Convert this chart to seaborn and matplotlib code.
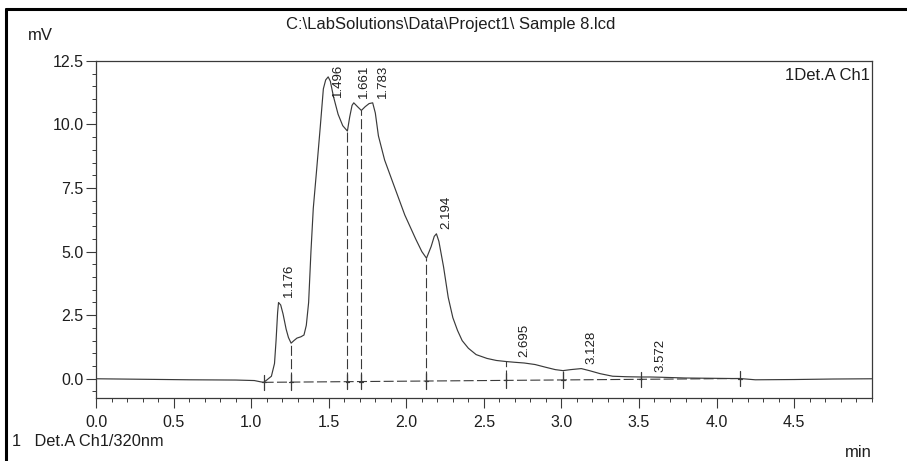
import numpy as np
import matplotlib
matplotlib.use("Agg")
import matplotlib.pyplot as plt
from matplotlib.lines import Line2D
from matplotlib.ticker import MultipleLocator, FormatStrFormatter
import seaborn as sns

# Detector trace (retention time in min, signal in mV)
time_min = [0.00, 0.30, 0.60, 0.90, 1.02, 1.06, 1.08, 1.10, 1.13, 1.15, 1.16, 1.17,
            1.176, 1.19, 1.205, 1.225, 1.24, 1.257, 1.275, 1.295, 1.32, 1.34, 1.355,
            1.37, 1.385, 1.40, 1.42, 1.445, 1.465, 1.48, 1.496, 1.51, 1.53, 1.56,
            1.59, 1.62, 1.635, 1.65, 1.661, 1.685, 1.71, 1.735, 1.76, 1.783, 1.80,
            1.82, 1.86, 1.92, 1.99, 2.06, 2.10, 2.13, 2.16, 2.18, 2.194, 2.21, 2.24,
            2.27, 2.30, 2.33, 2.36, 2.40, 2.45, 2.52, 2.58, 2.64, 2.695, 2.76, 2.83,
            2.90, 2.96, 3.01, 3.06, 3.128, 3.18, 3.25, 3.33, 3.42, 3.51, 3.572, 3.64,
            3.80, 3.95, 4.10, 4.15, 4.25, 4.50, 4.75, 5.00]
signal_mv = [0.00, -0.02, -0.04, -0.05, -0.07, -0.12, -0.14, -0.05, 0.10, 0.60, 1.50, 2.60,
             3.00, 2.90, 2.55, 1.95, 1.62, 1.40, 1.50, 1.60, 1.65, 1.72, 2.10,
             3.00, 5.00, 6.70, 8.10, 9.90, 11.40, 11.75, 11.87, 11.70, 11.10, 10.40,
             9.95, 9.74, 10.30, 10.75, 10.85, 10.70, 10.55, 10.70, 10.82, 10.85, 10.45,
             9.55, 8.60, 7.60, 6.44, 5.50, 5.00, 4.74, 5.20, 5.60, 5.70, 5.40, 4.40,
             3.20, 2.40, 1.90, 1.50, 1.20, 0.95, 0.80, 0.72, 0.68, 0.65, 0.62, 0.56,
             0.45, 0.36, 0.32, 0.36, 0.40, 0.32, 0.20, 0.10, 0.08, 0.07, 0.07, 0.06,
             0.03, 0.02, 0.01, 0.01, -0.04, -0.03, -0.01, 0.00]

# Integration results
peak_rt = [1.176, 1.496, 1.661, 1.783, 2.194, 2.695, 3.128, 3.572]
peak_labels = ["1.176", "1.496", "1.661", "1.783", "2.194", "2.695", "3.128", "3.572"]
drop_times = [1.257, 1.62, 1.71, 2.13, 2.64, 3.01, 3.51]
baseline_start = (1.08, -0.14)
baseline_end = (4.15, 0.01)

x_ticks = [0.0, 0.5, 1.0, 1.5, 2.0, 2.5, 3.0, 3.5, 4.0, 4.5]
y_ticks = [0.0, 2.5, 5.0, 7.5, 10.0, 12.5]

title_text = "C:\\LabSolutions\\Data\\Project1\\ Sample 8.lcd"
channel_text = "1Det.A Ch1"
legend_text = "1   Det.A Ch1/320nm"

sns.set_style("ticks")
plt.rcParams["font.family"] = ["Liberation Sans", "DejaVu Sans"]
ink = "#3a3a3a"
txt = "#1e1e1e"

fig = plt.figure(figsize=(9.07, 4.61), dpi=100)
ax = fig.add_axes([0.106, 0.137, 0.855, 0.731])

sns.lineplot(x=time_min, y=signal_mv, ax=ax, color=ink, linewidth=0.85,
             estimator=None, sort=False)

# baseline, drop lines and boundary marks
def base_at(t):
    (t0, y0), (t1, y1) = baseline_start, baseline_end
    return y0 + (y1 - y0) * (t - t0) / (t1 - t0)

dash = (0, (9, 3))
ax.plot([baseline_start[0], baseline_end[0]], [baseline_start[1], baseline_end[1]],
        color=ink, lw=0.8, linestyle=dash)
for t in drop_times:
    top = np.interp(t, time_min, signal_mv)
    ax.plot([t, t], [base_at(t), top], color=ink, lw=0.8, linestyle=dash)
for t in [baseline_start[0]] + drop_times + [baseline_end[0]]:
    b = base_at(t)
    ax.plot([t, t], [b - 0.3, b + 0.3], color=ink, lw=0.9)
    ax.plot([t - 0.012, t + 0.012], [b, b], color=ink, lw=0.9)

# retention time labels
for rt, lab in zip(peak_rt, peak_labels):
    h = np.interp(rt, time_min, signal_mv)
    if h + 1.5 > 12.4:
        ax.text(rt + 0.065, 12.4, lab, rotation=90, ha="center", va="top",
                fontsize=9.5, color=txt)
    else:
        ax.text(rt + 0.065, h + 0.2, lab, rotation=90, ha="center", va="bottom",
                fontsize=9.5, color=txt)

ax.set_xlim(0, 5.0)
ax.set_ylim(-0.75, 12.5)
ax.set_xticks(x_ticks)
ax.set_yticks(y_ticks)
ax.xaxis.set_minor_locator(MultipleLocator(0.1))
ax.yaxis.set_minor_locator(MultipleLocator(0.5))
ax.xaxis.set_major_formatter(FormatStrFormatter("%.1f"))
ax.yaxis.set_major_formatter(FormatStrFormatter("%.1f"))
ax.tick_params(which="major", direction="out", length=7, width=0.8, color=ink,
               labelsize=11.5, labelcolor=txt, pad=2)
ax.tick_params(axis="x", which="major", pad=5)
ax.tick_params(which="minor", direction="out", length=3, width=0.7, color=ink)
ax.set_xlabel("")
ax.set_ylabel("")
for s in ax.spines.values():
    s.set_visible(True)
    s.set_color(ink)
    s.set_linewidth(0.9)

ax.text(0.998, 0.98, channel_text, transform=ax.transAxes, ha="right", va="top",
        fontsize=12, color=txt)

fig.text(451 / 907, 1 - 24 / 461, title_text, ha="center", va="center",
         fontsize=12, color=txt)
fig.text(40 / 907, 1 - 35 / 461, "mV", ha="center", va="center", fontsize=12,
         color=txt)
fig.text(12 / 907, 1 - 441 / 461, legend_text, ha="left", va="center",
         fontsize=11.8, color=txt)
fig.text(858 / 907, 1 - 452 / 461, "min", ha="center", va="center",
         fontsize=12, color=txt)

# scan border along the top and left edges
fig.add_artist(Line2D([6 / 907, 1.0], [1 - 9 / 461, 1 - 9 / 461],
                      transform=fig.transFigure, color="black", lw=2.2))
fig.add_artist(Line2D([6 / 907, 6 / 907], [0.0, 1 - 9 / 461],
                      transform=fig.transFigure, color="black", lw=2.2))

fig.savefig("out.png", dpi=100, facecolor="white")
